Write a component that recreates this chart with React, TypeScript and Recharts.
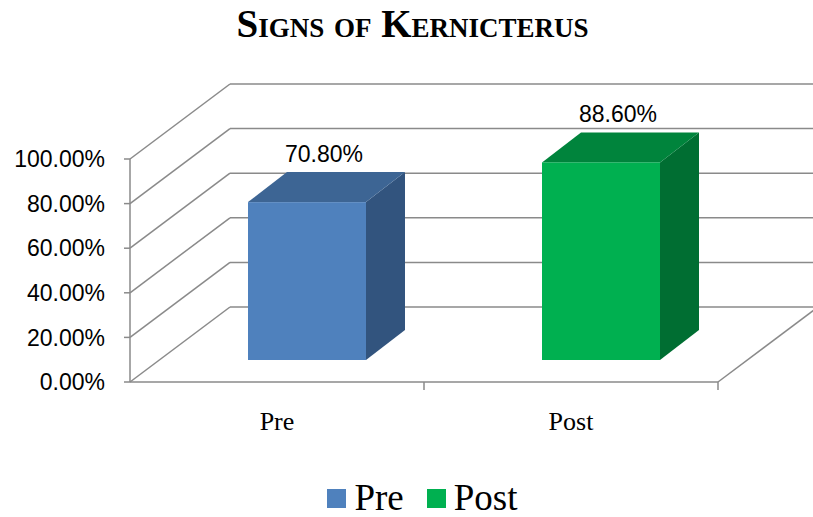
import { Bar, BarChart, CartesianGrid, Legend, XAxis, YAxis } from "recharts";

const categories = ["Pre", "Post"];
const values = [0.708, 0.886];
const yTicks = [0, 0.2, 0.4, 0.6, 0.8, 1];

const frontColors = ["#4F81BD", "#00B050"];
const topColors = ["#3D6594", "#00843C"];
const sideColors = ["#32547E", "#006E32"];

const data = categories.map((name, i) => ({ name, value: values[i] }));

// 3D offsets: wall depth, bar plane shift, bar depth
const WALL = { dx: 100, dy: -75 };
const SHIFT = { dx: 30, dy: -22 };
const DEPTH = { dx: 39, dy: -30 };
const GRID = "#8A8A8A";

function pct(v: number): string {
  return `${(v * 100).toFixed(2)}%`;
}

function GridLine(p: any) {
  const { x1, y1, x2, index } = p;
  const bx = x1 + WALL.dx;
  const by = y1 + WALL.dy;
  const bottom =
    p.y !== undefined && p.height !== undefined
      ? Math.abs(y1 - (p.y + p.height)) < 1
      : index === 0;
  const step = (x2 - x1) / categories.length;
  return (
    <g key={`grid-${index}`}>
      <line x1={x1} y1={y1} x2={bx} y2={by} stroke={GRID} strokeWidth={1.5} />
      <line x1={bx} y1={by} x2={813} y2={by} stroke={GRID} strokeWidth={1.5} />
      {bottom && (
        <>
          <line x1={x2} y1={y1} x2={x2 + WALL.dx} y2={by} stroke={GRID} strokeWidth={1.5} />
          {categories.map((_, i) => (
            <line
              key={i}
              x1={x1 + step * (i + 1)}
              y1={y1}
              x2={x1 + step * (i + 1)}
              y2={y1 + 8}
              stroke={GRID}
              strokeWidth={1.5}
            />
          ))}
        </>
      )}
    </g>
  );
}

function Box3D(p: any) {
  const { x, y, width, height, index } = p;
  const fx = x + SHIFT.dx;
  const fy = y + SHIFT.dy;
  const top = `${fx},${fy} ${fx + DEPTH.dx},${fy + DEPTH.dy} ${fx + width + DEPTH.dx},${fy + DEPTH.dy} ${fx + width},${fy}`;
  const side = `${fx + width},${fy} ${fx + width + DEPTH.dx},${fy + DEPTH.dy} ${fx + width + DEPTH.dx},${fy + height + DEPTH.dy} ${fx + width},${fy + height}`;
  return (
    <g>
      <polygon points={side} fill={sideColors[index]} />
      <polygon points={top} fill={topColors[index]} />
      <rect x={fx} y={fy} width={width} height={height} fill={frontColors[index]} />
    </g>
  );
}

function BarLabel(p: any) {
  const { x, y, width, value } = p;
  return (
    <text
      x={x + SHIFT.dx + width / 2 + 17}
      y={y + SHIFT.dy + DEPTH.dy - 10}
      textAnchor="middle"
      fontFamily="Liberation Sans, Arial, sans-serif"
      fontSize={23}
      fill="#000"
    >
      {pct(Number(value))}
    </text>
  );
}

function LegendBox() {
  return (
    <div
      style={{
        display: "flex",
        justifyContent: "center",
        alignItems: "center",
        height: 40,
        paddingLeft: 32,
        fontFamily: "Liberation Serif, Times New Roman, serif",
        fontSize: 37,
        lineHeight: "40px",
      }}
    >
      {categories.map((c, i) => (
        <div key={c} style={{ display: "flex", alignItems: "center", marginRight: i === 0 ? 23 : 0 }}>
          <span style={{ width: 19, height: 19, background: frontColors[i], marginRight: 8 }} />
          <span>{c}</span>
        </div>
      ))}
    </div>
  );
}

export default function App() {
  return (
    <div style={{ position: "absolute", left: 0, top: 0, width: 813, height: 517, background: "#fff" }}>
      <div
        style={{
          position: "absolute",
          left: 6,
          top: 5,
          width: 813,
          textAlign: "center",
          fontFamily: "Liberation Serif, Times New Roman, serif",
          fontWeight: 700,
          fontSize: 39,
          lineHeight: "38px",
          fontVariant: "small-caps",
        }}
      >
        Signs of Kernicterus
      </div>
      <BarChart
        width={813}
        height={517}
        data={data}
        margin={{ top: 159, right: 95, left: 30, bottom: 85 }}
        barSize={118}
      >
        <CartesianGrid vertical={false} horizontal={GridLine} />
        <XAxis
          dataKey="name"
          height={50}
          axisLine={{ stroke: GRID, strokeWidth: 1.5 }}
          tickLine={false}
          tickSize={8}
          tickMargin={22}
          tick={{ fill: "#000", fontSize: 26, fontFamily: "Liberation Serif, Times New Roman, serif" }}
        />
        <YAxis
          width={100}
          domain={[0, 1]}
          ticks={yTicks}
          tickFormatter={pct}
          axisLine={{ stroke: GRID, strokeWidth: 1.5 }}
          tickLine={{ stroke: GRID, strokeWidth: 1.5 }}
          tickSize={6}
          tickMargin={19}
          tick={{ fill: "#000", fontSize: 23, fontFamily: "Liberation Sans, Arial, sans-serif" }}
        />
        <Legend
          layout="horizontal"
          verticalAlign="middle"
          align="center"
          wrapperStyle={{ top: 478, left: 0, width: 813 }}
          content={LegendBox}
        />
        <Bar dataKey="value" isAnimationActive={false} shape={Box3D} label={BarLabel} />
      </BarChart>
    </div>
  );
}
